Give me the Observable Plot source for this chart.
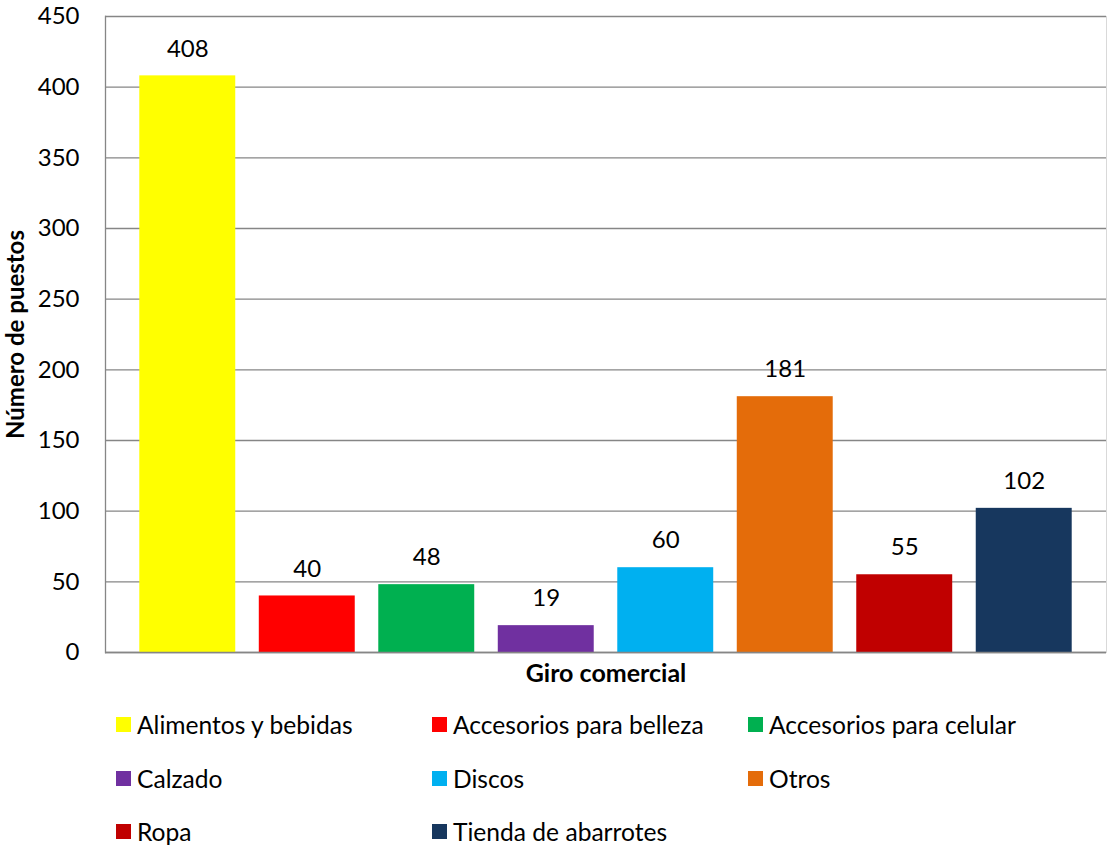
<!DOCTYPE html>
<html><head><meta charset="utf-8">
<script src="https://cdn.jsdelivr.net/npm/d3@7"></script>
<script src="https://cdn.jsdelivr.net/npm/@observablehq/plot@0.6"></script>
<style>
body{margin:0;background:#fff;font-family:Lato,sans-serif;}
#legend{position:relative;width:1107px;height:146px;}
.item{position:absolute;display:flex;align-items:center;font-size:24.6px;color:#000;height:30px;white-space:nowrap;}
.sw{width:15px;height:15px;margin-right:6px;flex:none;}
</style></head><body><div id="chart"></div><div id="legend"></div>
<script>
const categories = ["Alimentos y bebidas","Accesorios para belleza","Accesorios para celular","Calzado","Discos","Otros","Ropa","Tienda de abarrotes"];
const values = [408,40,48,19,60,181,55,102];
const colors = ["#FFFF00","#FF0000","#00B050","#7030A0","#00B0F0","#E46C0A","#C00000","#17375E"];
const yTicks = [0,50,100,150,200,250,300,350,400,450];
const yTitle = "Número de puestos";
const xTitle = "Giro comercial";

const data = categories.map((c,i)=>({category:c,value:values[i]}));

const chart = Plot.plot({
  width:1107, height:700,
  marginLeft:105, marginRight:1, marginTop:16, marginBottom:48,
  style:{fontFamily:"Lato, sans-serif", fontSize:"24px", color:"#000", background:"#fff"},
  x:{domain:categories, paddingInner:0.197, paddingOuter:0.287, round:false, axis:null},
  y:{domain:[0,450], axis:null},
  color:{domain:categories, range:colors},
  marks:[
    Plot.frame({stroke:"#d9d9d9"}),
    Plot.ruleY(yTicks,{stroke:"#868686", strokeWidth:1.3}),
    Plot.frame({anchor:"left", stroke:"#868686", strokeWidth:1.3}),
    Plot.barY(data,{x:"category", y:"value", fill:"category"}),
    Plot.ruleY([0],{stroke:"#868686", strokeWidth:1.3}),
    Plot.text(data,{x:"category", y:"value", text:d=>String(d.value), dy:-27, fontSize:24, fill:"#000"}),
    Plot.axisY(yTicks,{tickSize:0, tickPadding:26, fontSize:24, label:null}),
    Plot.text([yTitle],{frameAnchor:"left", textAnchor:"middle", lineAnchor:"middle", dx:-89, rotate:-90, fontWeight:"bold", fontSize:24, fill:"#000"}),
    Plot.text([xTitle],{frameAnchor:"bottom", textAnchor:"middle", lineAnchor:"middle", dy:21, fontWeight:"bold", fontSize:25, fill:"#000"})
  ]
});
document.getElementById("chart").appendChild(chart);

const legend = document.getElementById("legend");
const colLeft = [116,432,748];
const rowTop = [9,63,116];
categories.forEach((c,i)=>{
  const it = document.createElement("div");
  it.className = "item";
  it.style.left = colLeft[i%3]+"px";
  it.style.top = rowTop[Math.floor(i/3)]+"px";
  const sw = document.createElement("span");
  sw.className = "sw";
  sw.style.background = colors[i];
  const tx = document.createElement("span");
  tx.textContent = c;
  it.appendChild(sw); it.appendChild(tx);
  legend.appendChild(it);
});
</script></body></html>
